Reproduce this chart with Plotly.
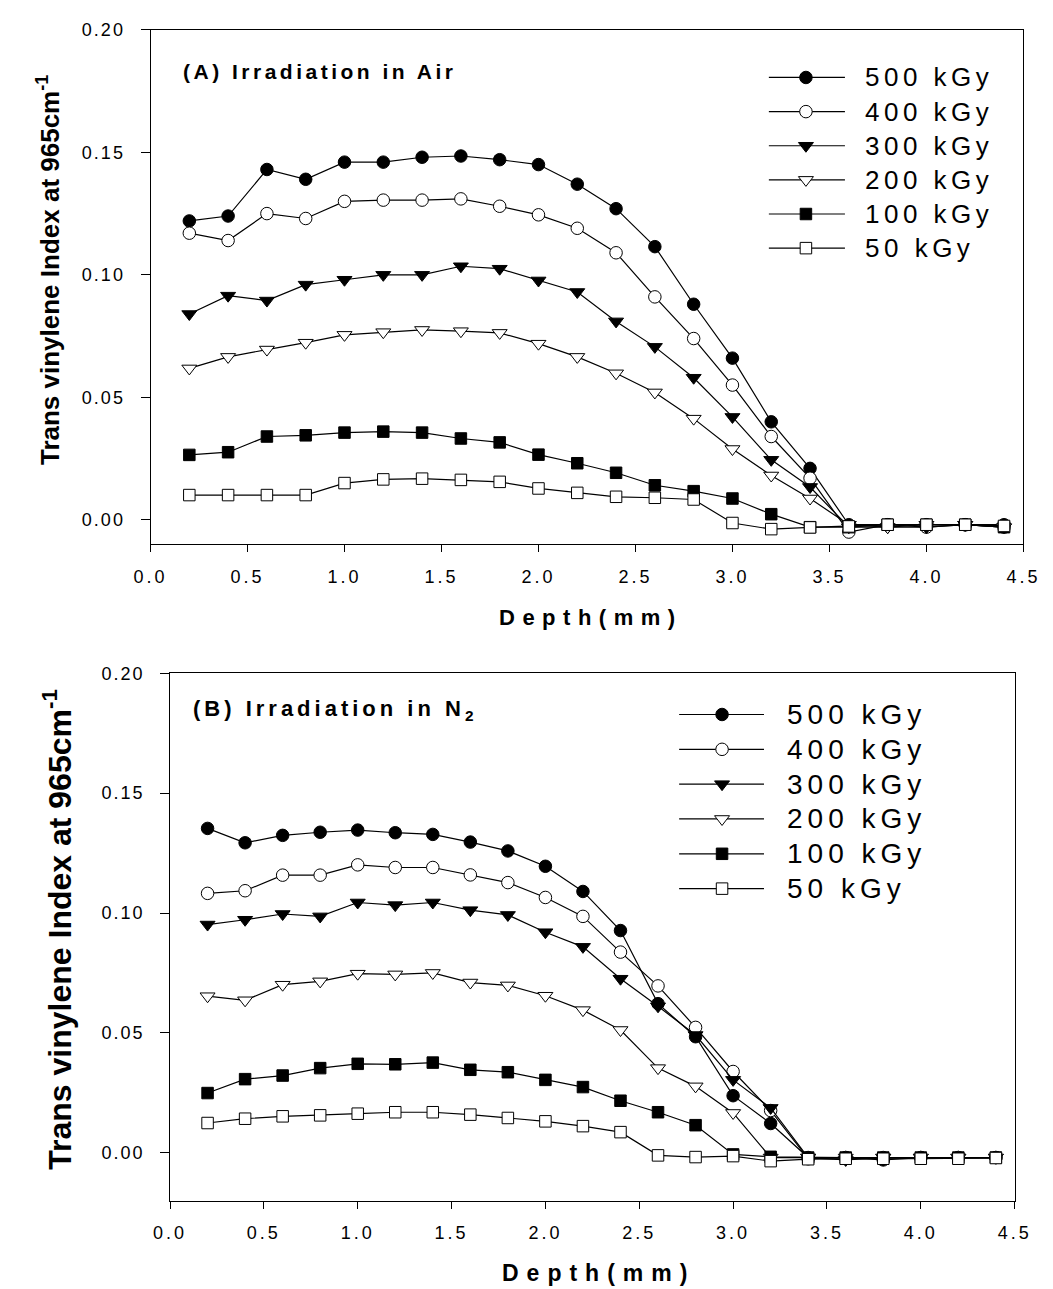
import json
import plotly.graph_objects as go

# Depth positions (mm) of the FTIR line scans
depth_mm = [0.2, 0.4, 0.6, 0.8, 1.0, 1.2, 1.4, 1.6, 1.8, 2.0, 2.2,
            2.4, 2.6, 2.8, 3.0, 3.2, 3.4, 3.6, 3.8, 4.0, 4.2, 4.4]

doses = ["500 kGy", "400 kGy", "300 kGy", "200 kGy", "100 kGy", "50 kGy"]

# (A) irradiation in air
air_500 = [0.122, 0.124, 0.143, 0.139, 0.146, 0.146, 0.148, 0.1485, 0.147, 0.145, 0.137,
           0.127, 0.1115, 0.088, 0.066, 0.040, 0.021, -0.002, -0.002, -0.002, -0.002, -0.002]
air_400 = [0.117, 0.114, 0.125, 0.123, 0.130, 0.1305, 0.1305, 0.131, 0.128, 0.1245, 0.119,
           0.109, 0.091, 0.074, 0.055, 0.034, 0.017, -0.005, -0.002, -0.003, -0.002, -0.003]
air_300 = [0.084, 0.0915, 0.0895, 0.096, 0.098, 0.100, 0.100, 0.1035, 0.1025, 0.0977, 0.093,
           0.081, 0.0706, 0.058, 0.042, 0.0245, 0.0134, -0.003, -0.003, -0.003, -0.002, -0.003]
air_200 = [0.0618, 0.0665, 0.0695, 0.0723, 0.0755, 0.0766, 0.0775, 0.077, 0.0763, 0.0719, 0.0665,
           0.0598, 0.052, 0.0413, 0.0289, 0.0181, 0.0087, -0.002, -0.003, -0.002, -0.002, -0.003]
air_100 = [0.0265, 0.0276, 0.034, 0.0345, 0.0356, 0.036, 0.0356, 0.0332, 0.0316, 0.0266, 0.0231,
           0.0192, 0.0141, 0.0117, 0.0087, 0.0023, -0.003, -0.003, -0.002, -0.002, -0.002, -0.003]
air_50 = [0.0101, 0.0101, 0.0101, 0.0101, 0.015, 0.0165, 0.0168, 0.0163, 0.0155, 0.0128, 0.011,
          0.0094, 0.009, 0.0083, -0.0013, -0.0038, -0.0031, -0.0027, -0.002, -0.002, -0.002, -0.0025]

# (B) irradiation in nitrogen
n2_500 = [0.1353, 0.1293, 0.1324, 0.1337, 0.1346, 0.1335, 0.1328, 0.1296, 0.1259, 0.1195, 0.109,
          0.0927, 0.0622, 0.0484, 0.0238, 0.0122, -0.002, -0.002, -0.003, -0.002, -0.002, -0.002]
n2_400 = [0.1082, 0.1093, 0.1158, 0.1158, 0.1201, 0.119, 0.119, 0.1159, 0.1127, 0.1065, 0.0986,
          0.0837, 0.0696, 0.0523, 0.0339, 0.0176, -0.0025, -0.002, -0.002, -0.002, -0.002, -0.002]
n2_300 = [0.0952, 0.0972, 0.0996, 0.0986, 0.1044, 0.1033, 0.1044, 0.1012, 0.0992, 0.092, 0.0859,
          0.0726, 0.0611, 0.0491, 0.0304, 0.0187, -0.002, -0.003, -0.002, -0.002, -0.002, -0.002]
n2_200 = [0.0653, 0.0636, 0.0701, 0.0715, 0.0747, 0.0744, 0.075, 0.071, 0.0698, 0.0655, 0.0595,
          0.0512, 0.0353, 0.0277, 0.0166, -0.002, -0.002, -0.002, -0.002, -0.002, -0.002, -0.002]
n2_100 = [0.0249, 0.0307, 0.0322, 0.0353, 0.0371, 0.0369, 0.0376, 0.0346, 0.0336, 0.0304, 0.0274,
          0.0217, 0.0169, 0.0115, -0.0007, -0.0017, -0.002, -0.002, -0.002, -0.002, -0.002, -0.002]
n2_50 = [0.0124, 0.0142, 0.0152, 0.0156, 0.0163, 0.0169, 0.0169, 0.0159, 0.0145, 0.0131, 0.0111,
         0.0086, -0.0011, -0.0018, -0.0014, -0.0035, -0.0027, -0.0025, -0.0025, -0.0025, -0.0025, -0.0022]

air_series = [air_500, air_400, air_300, air_200, air_100, air_50]
n2_series = [n2_500, n2_400, n2_300, n2_200, n2_100, n2_50]

x_ticks = [0.0, 0.5, 1.0, 1.5, 2.0, 2.5, 3.0, 3.5, 4.0, 4.5]
x_tick_labels = ["0.0", "0.5", "1.0", "1.5", "2.0", "2.5", "3.0", "3.5", "4.0", "4.5"]
y_ticks = [0.00, 0.05, 0.10, 0.15, 0.20]
y_tick_labels = ["0.00", "0.05", "0.10", "0.15", "0.20"]

# marker symbol, fill colour, size for each dose
markers = {
    "500 kGy": ("circle", "black", 12.5),
    "400 kGy": ("circle", "white", 12.5),
    "300 kGy": ("triangle-down", "black", 13),
    "200 kGy": ("triangle-down", "white", 13),
    "100 kGy": ("square", "black", 11.5),
    "50 kGy": ("square", "white", 11.5),
}

W, H = 1053, 1289
FONT = "Liberation Sans, Arial, sans-serif"


def px_dom_x(a, b):
    return [a / W, b / W]


def px_dom_y(top, bottom):
    return [1 - bottom / H, 1 - top / H]


fig = go.Figure()

panels = [
    dict(series=air_series, xa="x", ya="y"),
    dict(series=n2_series, xa="x2", ya="y2"),
]

for p in panels:
    for dose, vals in zip(doses, p["series"]):
        sym, fill, size = markers[dose]
        fig.add_trace(go.Scatter(
            x=depth_mm, y=vals, xaxis=p["xa"], yaxis=p["ya"],
            mode="lines+markers", name=dose, showlegend=False,
            line=dict(color="black", width=1.2),
            marker=dict(symbol=sym, color=fill, size=size,
                        line=dict(color="black", width=1)),
        ))

# Legend blocks drawn on a full-page pixel overlay axis (x3/y3)
legends = [
    dict(line_x0=775, line_x1=853, mark_x=813, text_x=872, row0=68, step=34.4, size=26, sp=4.5),
    dict(line_x0=683, line_x1=770, mark_x=727, text_x=792, row0=710, step=35.1, size=28, sp=5),
]
annotations = []
spacings = []
aligns = []
for lg in legends:
    for i, dose in enumerate(doses):
        sym, fill, size = markers[dose]
        yy = lg["row0"] + i * lg["step"]
        fig.add_trace(go.Scatter(
            x=[lg["line_x0"], lg["line_x1"]], y=[yy, yy], xaxis="x3", yaxis="y3",
            mode="lines", showlegend=False, hoverinfo="skip",
            line=dict(color="black", width=1.2),
        ))
        fig.add_trace(go.Scatter(
            x=[lg["mark_x"]], y=[yy], xaxis="x3", yaxis="y3",
            mode="markers", showlegend=False, hoverinfo="skip",
            marker=dict(symbol=sym, color=fill, size=size,
                        line=dict(color="black", width=1)),
        ))
        annotations.append(dict(
            x=lg["text_x"], y=yy, xref="x3", yref="y3", text=dose,
            showarrow=False, xanchor="left", yanchor="middle",
            font=dict(family=FONT, size=lg["size"], color="black"),
        ))
        spacings.append(lg["sp"])
        aligns.append("left")

# panel labels
annotations.append(dict(x=172, y=62, xref="x3", yref="y3", text="<b>(A) Irradiation in Air</b>",
                        showarrow=False, xanchor="left", yanchor="middle",
                        font=dict(family=FONT, size=21, color="black")))
spacings.append(3.5)
aligns.append("left")
annotations.append(dict(x=182, y=705, xref="x3", yref="y3", text="<b>(B) Irradiation in N<sub>2</sub></b>",
                        showarrow=False, xanchor="left", yanchor="middle",
                        font=dict(family=FONT, size=22, color="black")))
spacings.append(4)
aligns.append("left")

# axis titles
for (xc, yc, fs, sp) in [(589, 612, 22, 7.5), (596, 1273, 23, 8)]:
    annotations.append(dict(x=xc, y=yc, xref="x3", yref="y3", text="<b>Depth(mm)</b>",
                            showarrow=False, xanchor="center", yanchor="middle",
                            font=dict(family=FONT, size=fs, color="black")))
    spacings.append(sp)
    aligns.append("center")
for (xc, yc, fs) in [(37, 262, 26), (45, 926, 32)]:
    annotations.append(dict(x=xc, y=yc, xref="x3", yref="y3",
                            text="<b>Trans vinylene Index at 965cm<sup>-1</sup></b>",
                            showarrow=False, xanchor="center", yanchor="middle", textangle=-90,
                            font=dict(family=FONT, size=fs, color="black")))
    spacings.append(0)
    aligns.append("center")

axis_common = dict(
    showline=True, linecolor="black", linewidth=1, mirror=True,
    ticks="outside", tickcolor="black", tickwidth=1,
    showgrid=False, zeroline=False, fixedrange=True,
    tickfont=dict(family=FONT, size=18, color="black"),
)

fig.update_layout(
    width=W, height=H, autosize=False,
    margin=dict(l=0, r=0, t=0, b=0),
    paper_bgcolor="white", plot_bgcolor="rgba(0,0,0,0)",
    showlegend=False,
    xaxis=dict(domain=px_dom_x(141, 1036), range=[0, 4.5], anchor="y",
               tickvals=x_ticks, ticktext=x_tick_labels, ticklen=7, ticklabelstandoff=9, **axis_common),
    yaxis=dict(domain=px_dom_y(20, 538.5), range=[-0.01, 0.20], anchor="x",
               tickvals=y_ticks, ticktext=y_tick_labels, ticklen=9, ticklabelstandoff=12, **axis_common),
    xaxis2=dict(domain=px_dom_x(161, 1027), range=[0, 4.5], anchor="y2",
                tickvals=x_ticks, ticktext=x_tick_labels, ticklen=7, ticklabelstandoff=9, **axis_common),
    yaxis2=dict(domain=px_dom_y(668.5, 1200), range=[-0.02, 0.20], anchor="x2",
                tickvals=y_ticks, ticktext=y_tick_labels, ticklen=9, ticklabelstandoff=12, **axis_common),
    xaxis3=dict(domain=[0, 1], range=[0, W], anchor="y3", visible=False, fixedrange=True),
    yaxis3=dict(domain=[0, 1], range=[H, 0], anchor="x3", visible=False, fixedrange=True),
    annotations=annotations,
)

# wide letter spacing of the typeset labels; annotations keep their anchor point
post = """
var gd = document.getElementById('{plot_id}');
var sp = %s;
var al = %s;
gd.querySelectorAll('.xtick text, .x2tick text').forEach(function(t){ t.style.letterSpacing = '3px'; });
gd.querySelectorAll('.ytick text, .y2tick text').forEach(function(t){ t.style.letterSpacing = '2px'; });
gd.querySelectorAll('g.annotation').forEach(function(g){
    var i = +g.getAttribute('data-index');
    var t = g.querySelector('text.annotation-text');
    if (!t || !sp[i]) { return; }
    var b0 = t.getBBox();
    t.style.letterSpacing = sp[i] + 'px';
    var b1 = t.getBBox();
    var dx = (al[i] === 'left') ? (b0.x - b1.x)
             : ((b0.x + b0.width / 2) - (b1.x + (b1.width - sp[i]) / 2));
    var x0 = parseFloat(t.getAttribute('x') || '0');
    t.setAttribute('x', x0 + dx);
});
""" % (json.dumps(spacings), json.dumps(aligns))

fig.write_html("out.html", post_script=post)
